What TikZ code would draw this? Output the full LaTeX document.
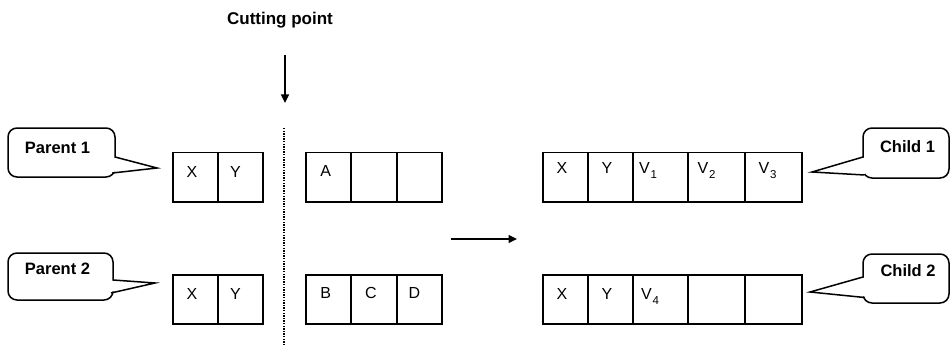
\documentclass[tikz,border=0pt]{standalone}
\usepackage{fontspec}
\setmainfont{Liberation Sans}
\usetikzlibrary{calc,arrows.meta}
\newcommand{\subV}[1]{V\kern0.8pt\raisebox{-5pt}{\fontsize{11.5}{12}\selectfont #1}}
\begin{document}
\begin{tikzpicture}[x=1pt,y=-1pt,
  cell/.style={draw,line width=1.8pt,minimum height=49.5pt,inner sep=0pt,outer sep=0pt,anchor=north west},
  lab/.style={anchor=base,inner sep=0pt,font=\fontsize{16}{19}\selectfont},
  bubble/.style={draw,line width=1.5pt,rounded corners=9pt,fill=white,inner sep=0pt},
  btext/.style={inner sep=0pt,font=\fontsize{16.5}{20}\selectfont\bfseries},
  ptr/.style={line width=1.5pt,line join=miter},
  arr/.style={line width=1.5pt,-{Triangle[length=8.5pt,width=8pt]}},
  dotline/.style={line width=1.4pt,dash pattern=on 1.3pt off 1.3pt},
]
\useasboundingbox (0,0) rectangle (951,345);

% Cutting point
\node[inner sep=0pt,anchor=base,font=\fontsize{17}{20}\selectfont\bfseries] (cut) at (280,25) {Cutting point};
\coordinate (cutA) at (285,55);
\coordinate (cutB) at (285,103);
\draw[arr] (cutA) -- (cutB);
\coordinate (dotA) at (284,128);
\coordinate (dotB) at (284,345);
\draw[dotline] (dotA) -- (dotB);

% Parent 1 row
\node[cell,minimum width=45pt] (p1a) at (173,152.5) {};
\node[cell,minimum width=45pt] (p1b) at (218,152.5) {};
\node[cell,minimum width=45.33pt] (p1c) at (306,152.5) {};
\node[cell,minimum width=45.33pt] (p1d) at (351.33,152.5) {};
\node[cell,minimum width=45.33pt] (p1e) at (396.67,152.5) {};
\node[lab] (p1aT) at ($(p1a.north)+(-3.5,24.5)$) {X};
\node[lab] (p1bT) at ($(p1b.north)+(-5,24.5)$) {Y};
\node[lab] (p1cT) at ($(p1c.north)+(-3,24.2)$) {A};

% Parent 2 row
\node[cell,minimum width=45pt,minimum height=49pt] (p2a) at (173,275) {};
\node[cell,minimum width=45pt,minimum height=49pt] (p2b) at (218,275) {};
\node[cell,minimum width=45.33pt,minimum height=49pt] (p2c) at (306,275) {};
\node[cell,minimum width=45.33pt,minimum height=49pt] (p2d) at (351.33,275) {};
\node[cell,minimum width=45.33pt,minimum height=49pt] (p2e) at (396.67,275) {};
\node[lab] (p2aT) at ($(p2a.north)+(-3.5,24.5)$) {X};
\node[lab] (p2bT) at ($(p2b.north)+(-5,24.5)$) {Y};
\node[lab] (p2cT) at ($(p2c.north)+(-3,23.5)$) {B};
\node[lab] (p2dT) at ($(p2d.north)+(-3,23.5)$) {C};
\node[lab] (p2eT) at ($(p2e.north)+(-5,23.5)$) {D};

% middle arrow
\coordinate (midA) at (451,239);
\coordinate (midB) at (517,239);
\draw[arr] (midA) -- (midB);

% Child 1 row
\node[cell,minimum width=45pt] (c1a) at (543,152.5) {};
\node[cell,minimum width=45pt] (c1b) at (588,152.5) {};
\node[cell,minimum width=55pt] (c1c) at (633,152.5) {};
\node[cell,minimum width=57pt] (c1d) at (688,152.5) {};
\node[cell,minimum width=57pt] (c1e) at (745,152.5) {};
\node[lab] (c1aT) at ($(c1a.north)+(-3.5,21)$) {X};
\node[lab] (c1bT) at ($(c1b.north)+(-3.5,21)$) {Y};
\node[lab] (c1cT) at (648,173.5) {\subV{1}};
\node[lab] (c1dT) at (706.5,173.5) {\subV{2}};
\node[lab] (c1eT) at (767.5,173.5) {\subV{3}};

% Child 2 row
\node[cell,minimum width=45pt,minimum height=49pt] (c2a) at (543,275) {};
\node[cell,minimum width=45pt,minimum height=49pt] (c2b) at (588,275) {};
\node[cell,minimum width=55pt,minimum height=49pt] (c2c) at (633,275) {};
\node[cell,minimum width=57pt,minimum height=49pt] (c2d) at (688,275) {};
\node[cell,minimum width=57pt,minimum height=49pt] (c2e) at (745,275) {};
\node[lab] (c2aT) at ($(c2a.north)+(-3.5,24)$) {X};
\node[lab] (c2bT) at ($(c2b.north)+(-3.5,24)$) {Y};
\node[lab] (c2cT) at (650,299) {\subV{4}};

% Callout Parent 1
\node[bubble,minimum width=107pt,minimum height=49pt] (bp1) at (61.5,152.5) {};
\node[btext] (bp1T) at ($(bp1.center)+(-4,-5)$) {Parent 1};
\coordinate (bp1tip) at (157,168);
\coordinate (bp1u) at (115,157);
\coordinate (bp1l) at (112.5,173);
\fill[white] (113.5,157.6) -- (bp1tip) -- (111.5,172) -- cycle;
\draw[ptr] (bp1u) -- (bp1tip) -- (bp1l);

% Callout Parent 2
\node[bubble,minimum width=105pt,minimum height=47pt] (bp2) at (60.5,276.5) {};
\node[btext] (bp2T) at ($(bp2.center)+(-3,-7.5)$) {Parent 2};
\coordinate (bp2tip) at (155,283);
\coordinate (bp2u) at (113,280);
\coordinate (bp2l) at (111,293);
\fill[white] (111.5,280.6) -- (bp2tip) -- (110,292) -- cycle;
\draw[ptr] (bp2u) -- (bp2tip) -- (bp2l);

% Callout Child 1
\node[bubble,minimum width=86pt,minimum height=50pt] (bc1) at (906,153) {};
\node[btext] (bc1T) at ($(bc1.center)+(1.5,-6)$) {Child 1};
\coordinate (bc1tip) at (812,172);
\coordinate (bc1u) at (863,157);
\coordinate (bc1l) at (864.5,175);
\fill[white] (864.5,157.6) -- (bc1tip) -- (865.5,174.2) -- cycle;
\draw[ptr] (bc1u) -- (bc1tip) -- (bc1l);

% Callout Child 2
\node[bubble,minimum width=86pt,minimum height=49pt] (bc2) at (906,278.5) {};
\node[btext] (bc2T) at ($(bc2.center)+(2,-7.5)$) {Child 2};
\coordinate (bc2tip) at (810,292);
\coordinate (bc2u) at (863,277);
\coordinate (bc2l) at (864.5,297.5);
\fill[white] (864.5,277.6) -- (bc2tip) -- (865.5,296.6) -- cycle;
\draw[ptr] (bc2u) -- (bc2tip) -- (bc2l);
\end{tikzpicture}
\end{document}
